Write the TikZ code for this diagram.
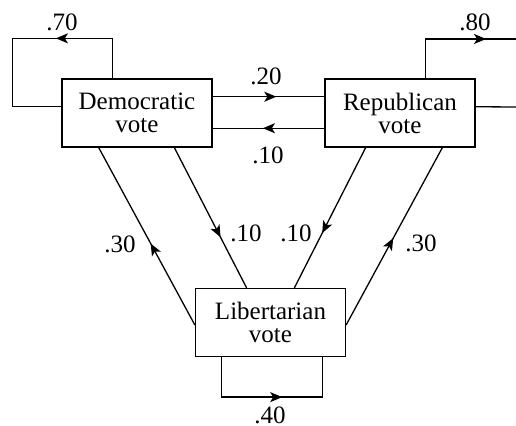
\documentclass[tikz,border=0pt]{standalone}
\usepackage{fontspec}
\setmainfont{Liberation Serif}
\newfontfamily\votefont{Liberation Serif}
\usetikzlibrary{arrows.meta,calc,decorations.markings}

\begin{document}
\begin{tikzpicture}[x=0.5pt, y=-0.5pt,
  votebox/.style={
    rectangle, draw=black, line width=0.65pt,
    minimum width=75pt, minimum height=34pt,
    inner sep=0pt, align=center,
    font=\votefont\fontsize{12.5}{11.5}\selectfont
  },
  conn/.style={
    line width=0.65pt, postaction={decorate},
    decoration={markings, mark=at position #1 with
      {\arrow{Stealth[length=6pt,width=5pt,inset=1.5pt]}}}
  },
  prob/.style={font=\votefont\fontsize{12.5}{14}\selectfont, inner sep=0pt}
]
\useasboundingbox (0,0) rectangle (516,426);

\node[votebox] (dem) at (137,113)   {Democratic\\vote};
\node[votebox] (rep) at (400,113)   {Republican\\vote};
\node[votebox] (lib) at (270.5,322.5) {Libertarian\\vote};

% free ends of the Republican loop
\coordinate (repout1) at (516,39);
\coordinate (repout2) at (516,107);

% self loops
\draw[conn=0.377] ($(dem.north west)!0.34!(dem.north east)$) -- ++(0,-40)
  -- ++(-100,0) |- ($(dem.north west)!0.41!(dem.south west)$);
\draw[conn=0.77] ($(rep.north west)!0.667!(rep.north east)$) |- (repout1);
\draw[line width=0.65pt] ($(rep.north east)!0.41!(rep.south east)$) -- (repout2);
\draw[conn=0.556] ($(lib.south west)!0.174!(lib.south east)$) -- ++(0,40)
  -| ($(lib.south west)!0.846!(lib.south east)$);

% between Democratic and Republican
\draw[conn=0.57] ($(dem.north east)!0.265!(dem.south east)$) -- ($(rep.north west)!0.265!(rep.south west)$);
\draw[conn=0.55] ($(rep.north west)!0.72!(rep.south west)$) -- ($(dem.north east)!0.72!(dem.south east)$);

% to and from Libertarian
\draw[conn=0.46] ($(lib.north west)!0.536!(lib.south west)$) -- ($(dem.south west)!0.247!(dem.south east)$);
\draw[conn=0.64] ($(dem.south west)!0.747!(dem.south east)$) -- ($(lib.north west)!0.342!(lib.north east)$);
\draw[conn=0.61] ($(rep.south west)!0.273!(rep.south east)$) -- ($(lib.north west)!0.658!(lib.north east)$);
\draw[conn=0.49] ($(lib.north east)!0.536!(lib.south east)$) -- ($(rep.south west)!0.78!(rep.south east)$);

\node[prob] (p70)  at (62,22)   {.70};
\node[prob] (p80)  at (475,22)  {.80};
\node[prob] (p20)  at (266,76)  {.20};
\node[prob] (p10a) at (268,155) {.10};
\node[prob] (p30a) at (120,244) {.30};
\node[prob] (p10b) at (246,233) {.10};
\node[prob] (p10c) at (296,233) {.10};
\node[prob] (p30b) at (421,243) {.30};
\node[prob] (p40)  at (270,415) {.40};
\end{tikzpicture}
\end{document}
